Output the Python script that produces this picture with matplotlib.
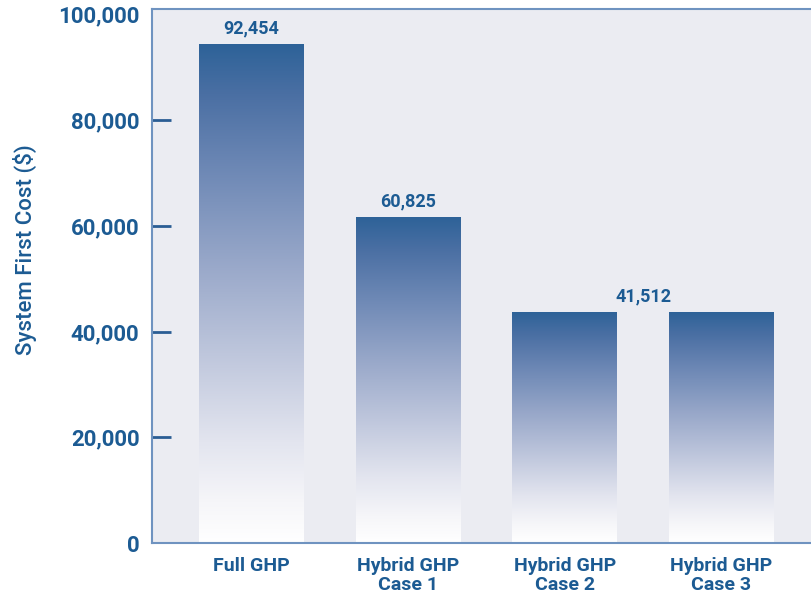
import numpy as np
import matplotlib
matplotlib.use('Agg')
import matplotlib.pyplot as plt
from matplotlib.colors import LinearSegmentedColormap

# data
categories = ['Full GHP', 'Hybrid GHP\nCase 1', 'Hybrid GHP\nCase 2', 'Hybrid GHP\nCase 3']
bar_heights = [94400, 61700, 43700, 43700]
value_labels = ['92,454', '60,825', '41,512']
label_pos = [0, 1, 2.5]          # last label sits between Case 2 and Case 3
label_base = [94400, 61700, 43700]
yticks = [0, 20000, 40000, 60000, 80000, 100000]

txt_col = '#1c5b93'
bg_col = '#ebecf2'

plt.rcParams['font.family'] = ['Roboto', 'DejaVu Sans']

fig = plt.figure(figsize=(8.12, 5.94), dpi=100)
ax = fig.add_axes([152/812, 51/594, 1.0 - 152/812 + 0.01, 534/594])
ax.set_facecolor(bg_col)

grad = LinearSegmentedColormap.from_list('g', [
    (0.0, '#ffffff'), (0.08, '#f6f6f9'), (0.2, '#e3e5ef'), (0.35, '#c4cbdf'),
    (0.55, '#9aa9ca'), (0.75, '#6d88b5'), (0.9, '#4a6fa3'), (1.0, '#2d6298')])

w = 0.67
bars = ax.bar(range(len(categories)), bar_heights, width=w, color='none', edgecolor='none', zorder=2)
g = np.linspace(0, 1, 256).reshape(-1, 1)
for b in bars:
    x0, h = b.get_x(), b.get_height()
    im = ax.imshow(g, cmap=grad, origin='lower', aspect='auto',
                   extent=[x0, x0 + b.get_width(), 0, h], zorder=2, interpolation='bilinear')
    im.set_clip_path(b)

for xp, yb, s in zip(label_pos, label_base, value_labels):
    ax.annotate(s, (xp, yb), xytext=(0, 11), textcoords='offset points', ha='center', va='center',
                fontsize=13, fontweight='bold', color=txt_col)

ax.set_xlim(-0.635, 3.63)
ax.set_ylim(0, 101000)
ax.set_xticks(range(len(categories)))
ax.set_xticklabels(categories, fontsize=14, fontweight='bold', color=txt_col, linespacing=1.05)
ax.set_yticks(yticks)
ax.set_yticklabels([f'{v:,}' for v in yticks], fontsize=16, fontweight='bold', color=txt_col)
ax.tick_params(axis='x', length=0, pad=10)
ax.tick_params(axis='y', direction='in', length=14, width=2, color='#2a5d94', pad=9)
for t in ax.yaxis.get_major_ticks():
    if t.get_loc() in (0, 100000):
        t.tick1line.set_visible(False)

for s in ax.spines.values():
    s.set_color('#6f93c0')
    s.set_linewidth(1.5)

ax.set_ylabel('System First Cost ($)', fontsize=16, fontweight='medium', color=txt_col)
ax.yaxis.set_label_coords(-0.172, 0.55)

fig.savefig('out.png', dpi=100)
